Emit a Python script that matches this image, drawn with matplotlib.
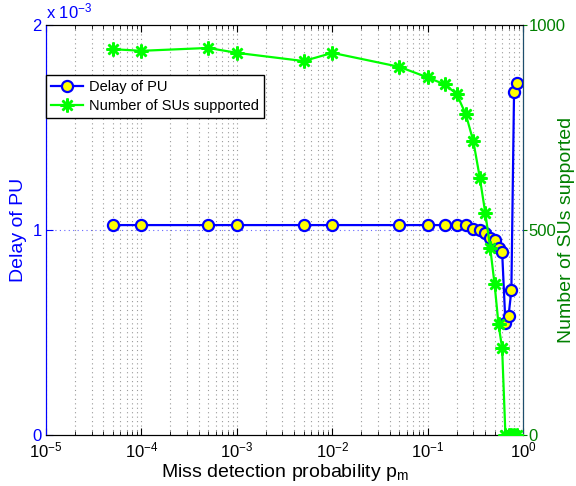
import matplotlib
matplotlib.use("Agg")
import matplotlib.pyplot as plt
from matplotlib.lines import Line2D
from matplotlib.ticker import LogLocator, NullFormatter

plt.rcParams["font.family"] = ["Liberation Sans", "DejaVu Sans"]
plt.rcParams["mathtext.fontset"] = "custom"
plt.rcParams["mathtext.rm"] = "Liberation Sans"
plt.rcParams["mathtext.it"] = "Liberation Sans:italic"

# ---------------------------------------------------------------
# data
# ---------------------------------------------------------------
pm = [5e-5, 1e-4, 5e-4, 1e-3, 5e-3, 1e-2, 5e-2, 0.1, 0.15, 0.2, 0.25,
      0.3, 0.35, 0.4, 0.45, 0.5, 0.55, 0.6, 0.65, 0.7, 0.75, 0.8, 0.85]
delay_pu = [1.024, 1.024, 1.024, 1.024, 1.024, 1.024, 1.024, 1.024, 1.024,
            1.024, 1.024, 1.005, 1.0, 0.984, 0.962, 0.951, 0.910, 0.894,
            0.546, 0.58, 0.705, 1.673, 1.717]          # x 1e-3
num_su = [941, 937, 944, 932, 912, 932, 898, 872, 855, 832, 782, 716,
          628, 541, 457, 368, 270, 212, 0, 0, 0, 0, 0]

BLUE = "#0000ff"
GREEN = "#00ff00"
DKGREEN = "#008000"

fig = plt.figure(figsize=(5.76, 4.86), dpi=100)
ax1 = fig.add_axes([0.0799, 0.1049, 0.8286, 0.8437])
ax2 = ax1.twinx()

# ---------------------------------------------------------------
# left axis: delay of PU
# ---------------------------------------------------------------
ax1.plot(pm, delay_pu, color=BLUE, lw=1.6, marker="o", ms=8,
         mfc="yellow", mec=BLUE, mew=1.6, zorder=3)
ax1.set_xscale("log")
ax1.set_xlim(1e-5, 1)
ax1.set_ylim(0, 2)
ax1.set_yticks([0, 1, 2])
ax1.set_yticklabels(["0", "1", "2"])
ax1.xaxis.set_major_locator(LogLocator(base=10, numticks=10))
ax1.xaxis.set_minor_locator(LogLocator(base=10, subs=range(2, 10), numticks=20))
ax1.xaxis.set_minor_formatter(NullFormatter())
ax1.grid(True, which="both", axis="x", color="#999999", ls=(0, (1, 3)), lw=0.8)
ax1.axhline(1, color=BLUE, ls=(0, (1, 3)), lw=0.8, alpha=0.6, zorder=1)
ax1.tick_params(axis="x", which="both", direction="in", top=True, labelsize=12,
                pad=4)
ax1.tick_params(axis="x", which="major", length=5)
ax1.tick_params(axis="x", which="minor", length=3)
ax1.tick_params(axis="y", direction="in", colors=BLUE, labelsize=12, length=5,
                pad=3)
ax1.set_ylabel("Delay of PU", color=BLUE, fontsize=14, labelpad=4)
ax1.set_xlabel(r"Miss detection probability p$_{\mathrm{m}}$", fontsize=14,
               labelpad=1)
ax1.spines["left"].set_color(BLUE)
ax1.text(0.0, 1.008, r"x 10$^{-3}$", transform=ax1.transAxes, color=BLUE,
         fontsize=12, ha="left", va="bottom")

# ---------------------------------------------------------------
# right axis: number of SUs supported
# ---------------------------------------------------------------
ax2.plot(pm, num_su, color=GREEN, lw=1.6, marker=(8, 2, 0), ms=10, mew=1.8,
         mec=GREEN, zorder=3)
ax2.set_ylim(0, 1000)
ax2.set_yticks([0, 500, 1000])
ax2.tick_params(axis="y", direction="out", colors=DKGREEN, labelsize=12,
                length=3, pad=1)
ax2.set_ylabel("Number of SUs supported", color=DKGREEN, fontsize=14)
ax2.yaxis.set_label_coords(1.072, 0.5)
ax2.spines["right"].set_color("#1d4f6e")
ax2.spines["left"].set_color(BLUE)

# ---------------------------------------------------------------
# legend
# ---------------------------------------------------------------
handles = [
    Line2D([], [], color=BLUE, lw=1.6, marker="o", ms=8, mfc="yellow",
           mec=BLUE, mew=1.6),
    Line2D([], [], color=GREEN, lw=1.6, marker=(8, 2, 0), ms=10, mew=1.8),
]
leg = ax2.legend(handles, ["Delay of PU", "Number of SUs supported"],
                 loc="upper left", bbox_to_anchor=(0.0, 0.878),
                 borderaxespad=0, fontsize=10.5, fancybox=False,
                 edgecolor="black", framealpha=1, handlelength=2.2,
                 borderpad=0.35, labelspacing=0.35, handletextpad=0.4)
leg.get_frame().set_linewidth(1.0)

fig.savefig("out.png", dpi=100)
